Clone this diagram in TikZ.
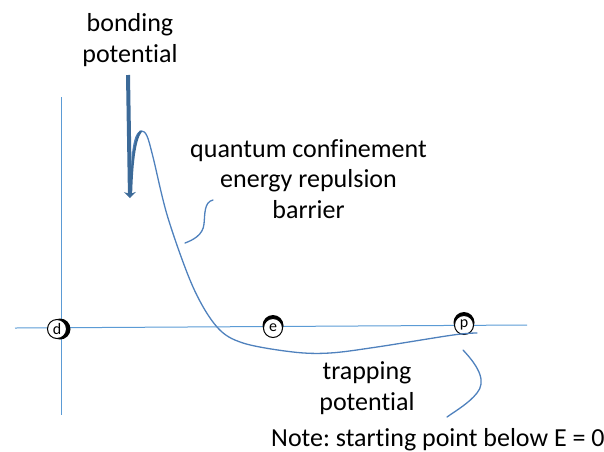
\documentclass[tikz,border=0pt]{standalone}
\usepackage{fontspec}
\setmainfont{Carlito}[Ligatures=NoCommon]
\frenchspacing
\usetikzlibrary{arrows.meta}
\definecolor{potblue}{RGB}{79,129,189}
\definecolor{axisblue}{RGB}{91,155,213}
\definecolor{bondblue}{RGB}{60,106,152}
\begin{document}
\begin{tikzpicture}[x=1pt,y=-1pt,
  every node/.style={font=\fontsize{26}{30.5}\selectfont,inner sep=0pt},
  caption/.style={align=center,anchor=base},
  particle/.style={circle,draw,fill=white,line width=1pt,minimum size=19pt,
    font=\fontsize{16}{16}\selectfont},
  potline/.style={potblue,line width=1.3pt,line cap=round}]
 \useasboundingbox (0,0) rectangle (604,451);
 % axes
 \draw[axisblue,line width=1pt] (61,97) -- (61,415);
 \draw[axisblue,line width=1pt] (15,328) -- (527,325);
 % particles, with their dark crescents
 \fill (60,329) circle (10.5pt);
 \node[particle] (d) at (57,329) {d};
 \fill (273,325.5) circle (10.5pt);
 \node[particle] (e) at (273,328) {e};
 \fill (464,322.5) circle (10.5pt);
 \node[particle] (p) at (464,325) {p};
 % potential
 \coordinate (well) at (131,192);
 \coordinate (tail) at (477,333);
 \draw[potline] plot[smooth,tension=0.55] coordinates {(well) (132.5,155) (136,137)
   (141.5,131) (147,136) (153,157) (168,218) (193,287) (217,327) (243,343)
   (293,352) (330,353) (377,347) (453,335) (tail)};
 \draw[bondblue,line width=2.4pt] (well) .. controls (132,160) and (135,138) .. (141,131);
 % labels (base = last line)
 \node[caption] (bond) at (130,62) {bonding\\potential};
 \node[caption] (barrier) at (308.5,218) {quantum confinement\\energy repulsion\\barrier};
 \node[caption] (trap) at (367,410) {trapping\\potential};
 \node[anchor=base west] (note) at (271,446) {Note: starting point below E = 0};
 \coordinate (bondtop) at (128,75);
 \coordinate (bondtip) at (130,198);
 \draw[bondblue,line width=4pt,-{Stealth[length=6pt,width=12pt]}] (bondtop) -- (bondtip);
 % pointers
 \coordinate (s1) at (213,200);
 \coordinate (s2) at (185,243);
 \draw[potline] (s1) .. controls (204,202) and (205,214) .. (204,224)
   .. controls (203,235) and (193,240) .. (s2);
 \coordinate (t1) at (463,350);
 \coordinate (t2) at (447,417);
 \draw[potline] (t1) .. controls (480,368) and (486,382) .. (477,393)
   .. controls (469,403) and (457,410) .. (t2);
\end{tikzpicture}
\end{document}
